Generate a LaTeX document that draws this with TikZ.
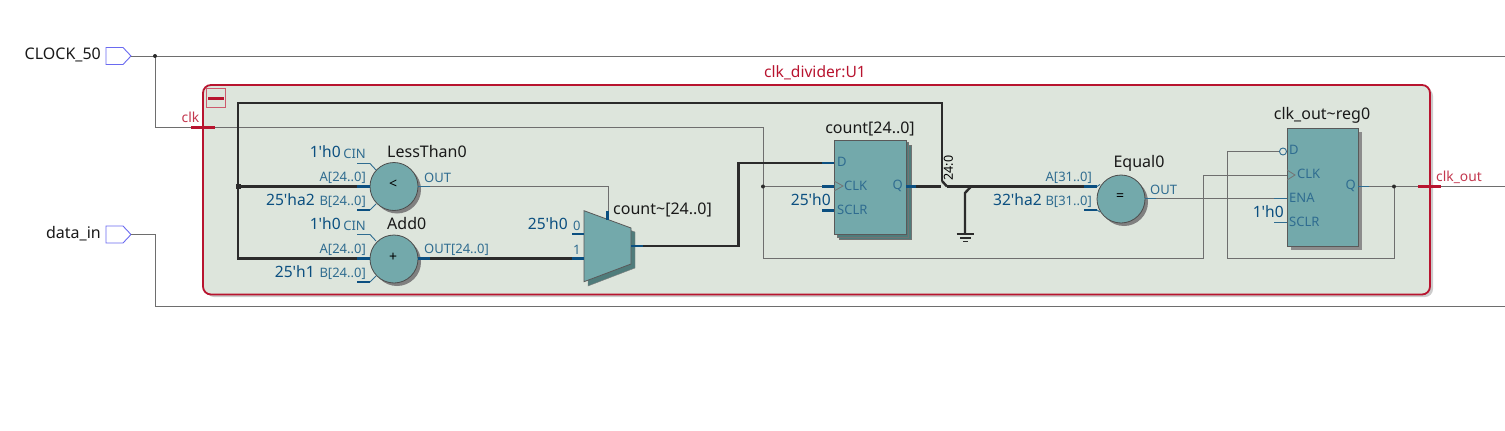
\documentclass[tikz,border=0pt]{standalone}
\usepackage{fontspec}
\setmainfont{Noto Sans}
\newfontfamily\valfont{Noto Sans}
\usetikzlibrary{shapes.geometric,shadows}
\definecolor{groupred}{HTML}{B8142F}
\definecolor{groupfill}{HTML}{DDE5DC}
\definecolor{blockfill}{HTML}{73A9AB}
\definecolor{blockdark}{HTML}{4F7C7B}
\definecolor{portblue}{HTML}{0B4F80}
\definecolor{portgray}{HTML}{2F6C90}
\definecolor{wiregray}{HTML}{6E6E6E}
\definecolor{busdark}{HTML}{2B2B2B}
\definecolor{pinblue}{HTML}{6A6AF0}
\tikzset{
  wire/.style={draw=wiregray,line width=1pt},
  bus/.style={draw=busdark,line width=2.4pt,line join=miter},
  stub/.style={draw=portblue,line width=2.4pt},
  thinstub/.style={draw=portgray,line width=0.9pt},
  redbar/.style={draw=groupred,line width=2.2pt},
  dot/.style={circle,fill=busdark,inner sep=0pt,minimum size=4pt},
  busdot/.style={rectangle,fill=busdark,inner sep=0pt,minimum size=5pt},
  opcircle/.style={circle,draw=black!70,fill=blockfill,line width=0.8pt,minimum size=48pt,inner sep=0pt,
    copy shadow={shadow xshift=3pt,shadow yshift=-3pt,fill=black!50,draw=none}},
  regbox/.style={rectangle,draw=black!65,fill=blockfill,line width=0.8pt,anchor=north west},
  inpin/.style={draw=pinblue,line width=0.9pt,fill=white},
  tag/.style={font=\fontsize{16}{16}\selectfont,text=black!90,inner sep=0pt,yshift=-0.8pt},
  val/.style={font=\valfont\fontsize{15.6}{16}\selectfont,text=portblue,inner sep=0pt,anchor=east},
  portl/.style={font=\fontsize{13}{13}\selectfont,text=portgray,inner sep=0pt,anchor=east,yshift=-0.6pt},
  portr/.style={font=\fontsize{13}{13}\selectfont,text=portgray,inner sep=0pt,anchor=west,yshift=-0.6pt},
  redtag/.style={font=\fontsize{13.8}{14}\selectfont,text=groupred!85,inner sep=0pt},
  opsign/.style={font=\fontsize{14}{14}\selectfont,inner sep=0pt}
}
\begin{document}
\begin{tikzpicture}[x=1pt,y=-1pt]
  \useasboundingbox (0,0) rectangle (1505,431);
  % group box
  \fill [black!20] (206,88) [rounded corners=8pt] rectangle (1433,297);
  \draw [fill=groupfill,draw=groupred,line width=1.8pt,rounded corners=8pt] (203,85) rectangle (1430,294.5);
  \node [font=\fontsize{15.6}{16}\selectfont,text=groupred,inner sep=0pt,yshift=-0.8pt] (grouptitle) at (815,72) {clk\_divider:U1};
  \draw [draw=groupred!70,fill=none,line width=0.7pt] (206,88.5) rectangle (225.5,107);
  \draw [draw=groupred,line width=3pt] (208,98) -- (223.5,98);
  % input pins
  \coordinate (clkpin) at (131,56);
  \coordinate (datapin) at (131,234.5);
  \draw [inpin] (106,47.5) -- (123,47.5) -- (clkpin) -- (123,64.5) -- (106,64.5) -- cycle;
  \draw [inpin] (106,226) -- (123,226) -- (datapin) -- (123,243) -- (106,243) -- cycle;
  \node [tag,anchor=east] (clklabel) at (101,54.5) {CLOCK\_50};
  \node [tag,anchor=east] (datalabel) at (101,232.5) {data\_in};
  % blocks
  \node [opcircle] (lessthan) at (394,186.5) {};
  \node [opcircle] (adder) at (394,259) {};
  \node [opcircle] (equal) at (1121,199) {};
  \node [opsign] (ltsign) at (393,184.5) {<};
  \node [opsign] (addsign) at (393,257) {+};
  \node [opsign] (eqsign) at (1120,197) {=};
  \draw [fill=blockdark,draw=black!50] (588,215) -- (635,232) -- (635,268) -- (588,286) -- cycle;
  \draw [fill=blockfill,draw=black!65,line width=0.8pt] (584,210.7) -- (631,228) -- (631,264) -- (584,281.7) -- cycle;
  \node [regbox,minimum width=71.5pt,minimum height=94.5pt,
    double copy shadow={shadow xshift=2.5pt,shadow yshift=-2.5pt,fill=blockdark,draw=black!55}] (countreg) at (834,139.5) {};
  \node [regbox,minimum width=71.5pt,minimum height=118.5pt,
    copy shadow={shadow xshift=4pt,shadow yshift=-4pt,fill=black!45,draw=none}] (outreg) at (1286.5,127.5) {};
  % named points
  \coordinate (clkport) at (203,127.5);
  \coordinate (clkjoin) at (155,56);
  \coordinate (clkdown) at (155,127.5);
  \coordinate (clkturn) at (763,127.5);
  \coordinate (clktap) at (763,186.5);
  \coordinate (clklow) at (763,258.5);
  \coordinate (clkup) at (1203,258.5);
  \coordinate (outclk) at (1287,175);
  \coordinate (countclk) at (834,186.5);
  \coordinate (wireend) at (1505,56);
  \coordinate (datadown) at (155,234.5);
  \coordinate (datalow) at (155,306);
  \coordinate (dataend) at (1505,306);
  \coordinate (ltout) at (418,186.5);
  \coordinate (muxsel) at (608,211);
  \coordinate (selturn) at (608,186.5);
  \coordinate (eqout) at (1145,198.7);
  \coordinate (outena) at (1287,198.7);
  \coordinate (outq) at (1358,186.5);
  \coordinate (qjoin) at (1394,186.5);
  \coordinate (qend) at (1505,186.5);
  \coordinate (fbturn) at (1394,258.5);
  \coordinate (fbleft) at (1227.5,258.5);
  \coordinate (fbup) at (1227.5,151.5);
  \coordinate (outd) at (1279.5,151.5);
  % thin wires
  \draw [wire] (clkpin) -- (wireend);
  \draw [wire] (clkjoin) -- (clkdown) -- (clkturn) -- (clklow) -- (clkup) -- (1203,175) -- (outclk);
  \draw [wire] (clktap) -- (countclk);
  \draw [wire] (datapin) -- (datadown) -- (datalow) -- (dataend);
  \draw [wire] (ltout) -- (selturn) -- (muxsel);
  \draw [wire] (eqout) -- (outena);
  \draw [wire] (outq) -- (qend);
  \draw [wire] (qjoin) -- (fbturn) -- (fbleft) -- (fbup) -- (outd);
  % buses
  \coordinate (countq) at (906,186.5);
  \coordinate (ripper) at (942,181);
  \coordinate (rippin) at (947,186.5);
  \coordinate (buseq) at (1097,186.5);
  \coordinate (bustop) at (942,103);
  \coordinate (busleft) at (238,103);
  \coordinate (bustee) at (238,186.5);
  \coordinate (buslow) at (238,258.5);
  \coordinate (ltain) at (370,186.5);
  \coordinate (addain) at (370,258.5);
  \coordinate (addout) at (418,258.5);
  \coordinate (muxone) at (584,258.5);
  \coordinate (muxout) at (631,246);
  \coordinate (countd) at (834,163);
  \coordinate (gndtop) at (971,186.5);
  \coordinate (gndturn) at (965,193);
  \coordinate (gndbase) at (965,234);
  \draw [bus] (countq) -- (941,186.5);
  \draw [bus] (ripper) -- (bustop) -- (busleft) -- (buslow) -- (addain);
  \draw [bus] (ripper) -- (rippin);
  \draw [bus] (rippin) -- (buseq);
  \draw [bus] (bustee) -- (ltain);
  \draw [bus] (addout) -- (muxone);
  \draw [bus] (muxout) -- (738.5,246) -- (738.5,163) -- (countd);
  \draw [bus] (gndtop) -- (gndturn) -- (gndbase);
  \draw [line width=1.6pt,draw=busdark] (956.5,234) -- (974,234);
  \draw [line width=1.6pt,draw=busdark] (960,238) -- (970.5,238);
  \draw [line width=1.6pt,draw=busdark] (963,241.5) -- (967.5,241.5);
  \node [font=\fontsize{12.5}{13}\selectfont,rotate=90,inner sep=0pt] (riplabel) at (948.5,168) {24:0};
  % junction dots
  \node [dot] (j1) at (clkjoin) {};
  \node [dot] (j2) at (clktap) {};
  \node [dot] (j3) at (qjoin) {};
  \node [busdot] (j4) at (bustee) {};
  % port stubs
  \draw [stub] (357,186.5) -- (ltain);
  \draw [stub] (357,210) -- (370,210);
  \draw [stub] (357,258.5) -- (addain);
  \draw [stub] (357,282) -- (370,282);
  \draw [thinstub] (357,163.5) -- (370,163.5) -- (376,170);
  \draw [thinstub] (357,234.5) -- (370,234.5) -- (376,241);
  \draw [thinstub] (370,210) -- (376,204);
  \draw [thinstub] (370,282) -- (376,276);
  \draw [thinstub] (ltout) -- (430,186.5);
  \draw [stub] (418,258.5) -- (430,258.5);
  \draw [stub] (572,234) -- (584,234);
  \draw [stub] (572,258.5) -- (muxone);
  \draw [stub] (607.5,211) -- (607.5,220);
  \draw [stub] (muxout) -- (643,246);
  \draw [stub] (822,163) -- (countd);
  \draw [stub] (822,186.5) -- (countclk);
  \draw [stub] (822,210.5) -- (834,210.5);
  \draw [stub] (countq) -- (916,186.5);
  \draw [stub] (1084,186.5) -- (buseq);
  \draw [stub] (1084,210) -- (1097,210);
  \draw [thinstub] (1097,186.5) -- (1100,184.5);
  \draw [thinstub] (1097,210) -- (1100,212);
  \draw [thinstub] (eqout) -- (1156,198.7);
  \draw [thinstub] (1274,198.7) -- (outena);
  \draw [thinstub] (1274,222.5) -- (1287,222.5);
  \draw [thinstub] (outq) -- (1369,186.5);
  \draw [draw=portgray,line width=0.9pt] (1283,151.5) circle (3.5pt);
  \draw [draw=black!55,line width=0.8pt] (834,181) -- (843,186) -- (834,191);
  \draw [draw=black!55,line width=0.8pt] (1287,170) -- (1295,175) -- (1287,180);
  % red ports
  \draw [redbar] (191,127.5) -- (214.5,127.5);
  \draw [redbar] (1418,186.5) -- (1441,186.5);
  \node [redtag] (clkname) at (190.5,117) {clk};
  \node [redtag] (outname) at (1459,177) {clk\_out};
  % block names
  \node [tag,anchor=west] (ltname) at (387,151) {LessThan0};
  \node [tag,anchor=west] (addname) at (387,223) {Add0};
  \node [tag,anchor=west] (muxname) at (613,209) {count\textasciitilde[24..0]};
  \node [tag] (countname) at (870,128) {count[24..0]};
  \node [tag] (eqname) at (1139,163) {Equal0};
  \node [tag] (outregname) at (1322,115) {clk\_out\textasciitilde reg0};
  % port labels
  \node [val] (v1) at (341,151.5) {1'h0};
  \node [portl] (p1) at (366,153) {CIN};
  \node [portl] (p2) at (366,177) {A[24..0]};
  \node [val] (v2) at (315,200) {25'ha2};
  \node [portl] (p3) at (366,201) {B[24..0]};
  \node [val] (v3) at (341,223.5) {1'h0};
  \node [portl] (p4) at (366,225) {CIN};
  \node [portl] (p5) at (366,249) {A[24..0]};
  \node [val] (v4) at (315,272) {25'h1};
  \node [portl] (p6) at (366,273) {B[24..0]};
  \node [portr] (p7) at (424,177) {OUT};
  \node [portr] (p8) at (424,249) {OUT[24..0]};
  \node [val] (v5) at (568,224) {25'h0};
  \node [portr] (p9) at (573,225) {0};
  \node [portr] (p10) at (573,249) {1};
  \node [portr] (p11) at (837,161.5) {D};
  \node [portr] (p12) at (844,185.5) {CLK};
  \node [portr] (p13) at (837,209.5) {SCLR};
  \node [portl] (p14) at (903,185.5) {Q};
  \node [val] (v6) at (831,199.5) {25'h0};
  \node [portl] (p15) at (1092,177) {A[31..0]};
  \node [portl] (p16) at (1092,201) {B[31..0]};
  \node [val] (v7) at (1042,200) {32'ha2};
  \node [portr] (p17) at (1150,189) {OUT};
  \node [portr] (p18) at (1289,149) {D};
  \node [portr] (p19) at (1297,173.5) {CLK};
  \node [portr] (p20) at (1289,197.5) {ENA};
  \node [portr] (p21) at (1289,221) {SCLR};
  \node [portl] (p22) at (1356,185.5) {Q};
  \node [val] (v8) at (1284,212) {1'h0};
\end{tikzpicture}
\end{document}
